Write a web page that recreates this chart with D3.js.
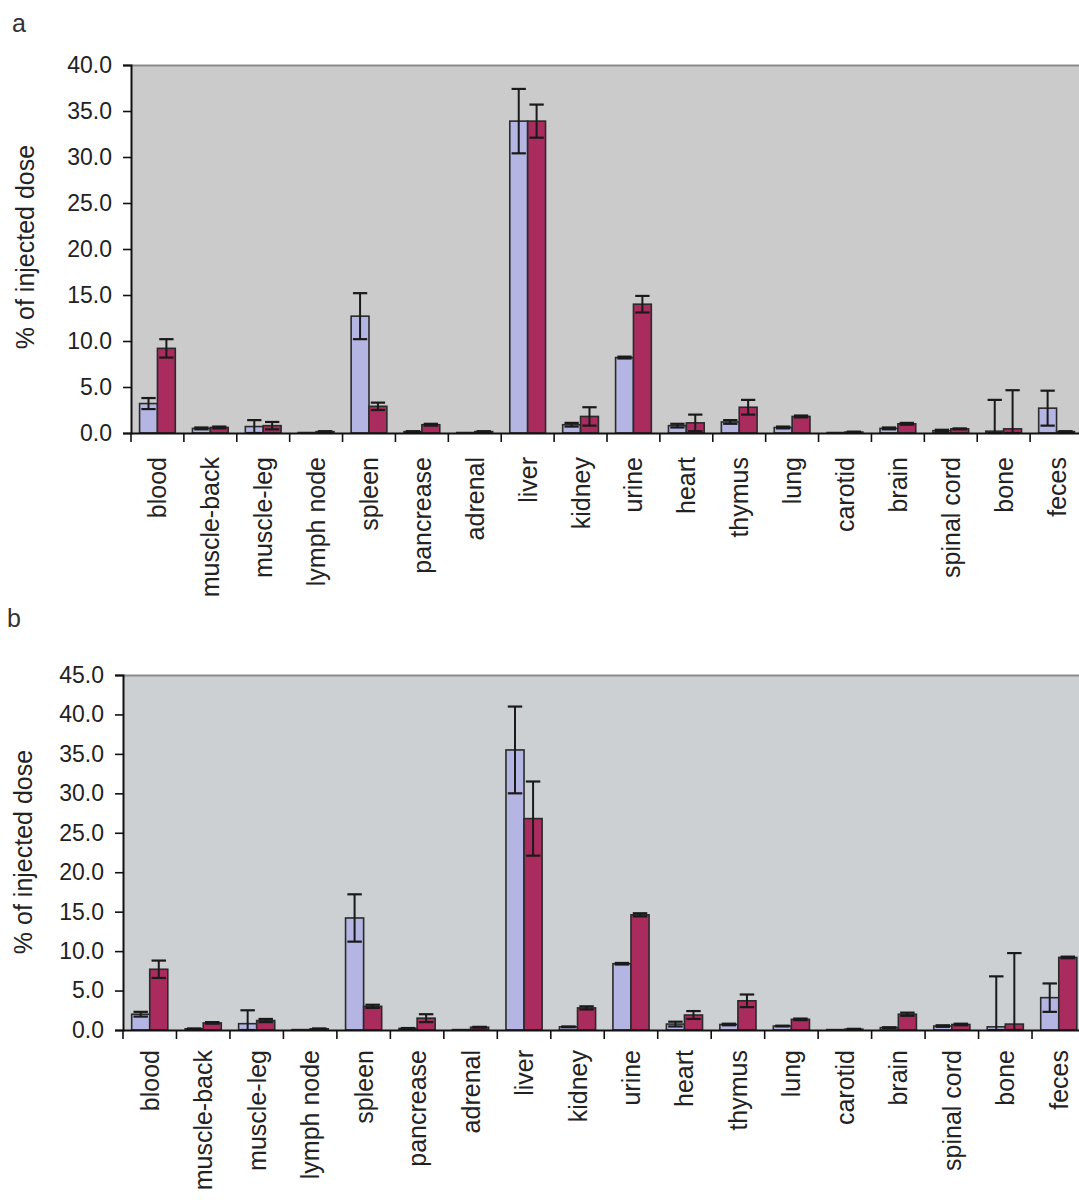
<!DOCTYPE html>
<html><head><meta charset="utf-8">
<script src="https://cdn.jsdelivr.net/npm/d3@7"></script>
<style>
html,body{margin:0;padding:0;background:#fff;}
svg{display:block;font-family:"Liberation Sans",Arial,sans-serif;}
</style></head>
<body>
<svg id="chart" width="1079" height="1202"></svg>
<script>
const categories = ["blood","muscle-back","muscle-leg","lymph node","spleen","pancrease","adrenal","liver","kidney","urine","heart","thymus","lung","carotid","brain","spinal cord","bone","feces"];

// panel a
const aBlue    = [3.2, 0.5, 0.7, 0.05, 12.7, 0.15, 0.05, 33.9, 0.9, 8.2, 0.8, 1.2, 0.6, 0.05, 0.5, 0.25, 0.2, 2.7];
const aBlueErr = [0.6, 0.1, 0.7, 0,    2.5,  0.05, 0,    3.5,  0.2, 0.1, 0.2, 0.2, 0.1, 0,    0.1, 0.1,  3.4, 1.9];
const aRed     = [9.2, 0.6, 0.8, 0.15, 2.9,  0.9,  0.15, 33.9, 1.8, 14.0, 1.1, 2.8, 1.8, 0.1, 1.0, 0.45, 0.45, 0.15];
const aRedErr  = [1.0, 0.1, 0.4, 0.05, 0.4,  0.1,  0.05, 1.8,  1.0, 0.9, 0.9, 0.8, 0.1, 0.05, 0.1, 0.05, 4.2, 0.05];
const aTicks   = [0, 5, 10, 15, 20, 25, 30, 35, 40];

// panel b
const bBlue    = [2.0, 0.15, 0.8, 0.05, 14.2, 0.2, 0.05, 35.5, 0.4, 8.4, 0.75, 0.7, 0.5, 0.05, 0.3, 0.5, 0.4, 4.1];
const bBlueErr = [0.3, 0.05, 1.7, 0,    3.0,  0.05, 0,   5.5,  0.05, 0.1, 0.3, 0.1, 0.05, 0,   0.05, 0.1, 6.4, 1.8];
const bRed     = [7.7, 0.9, 1.2, 0.15, 3.0, 1.5, 0.35, 26.8, 2.8, 14.6, 1.9, 3.7, 1.35, 0.1, 2.0, 0.7, 0.75, 9.2];
const bRedErr  = [1.1, 0.1, 0.2, 0.05, 0.2, 0.5, 0.05, 4.7, 0.2, 0.2, 0.5, 0.8, 0.1, 0.05, 0.2, 0.1, 9.0, 0.1];
const bTicks   = [0, 5, 10, 15, 20, 25, 30, 35, 40, 45];

const seriesNames = ["blue", "red"];
const yTitle = "% of injected dose";

const svg = d3.select("#chart");

function panel(cfg) {
  const g = svg.append("g");
  const x = d3.scaleBand().domain(categories).range([cfg.left, cfg.right]).paddingInner(0).paddingOuter(0);
  const xs = d3.scaleBand().domain(seriesNames).range([0, x.bandwidth()]).paddingInner(0).paddingOuter(0.48);
  const y = d3.scaleLinear().domain([0, cfg.max]).range([cfg.bottom, cfg.top]);

  // plot background
  g.append("rect").attr("x", cfg.left).attr("y", cfg.top)
    .attr("width", cfg.right - cfg.left).attr("height", cfg.bottom - cfg.top)
    .attr("fill", cfg.bg);
  g.append("line").attr("x1", cfg.left).attr("x2", cfg.right)
    .attr("y1", cfg.top + 0.5).attr("y2", cfg.top + 0.5)
    .attr("stroke", "#8a8a8a").attr("stroke-width", 2);

  const data = categories.map((c, i) => ({c, vals: [
    {s: "blue", v: cfg.blue[i], e: cfg.blueErr[i]},
    {s: "red", v: cfg.red[i], e: cfg.redErr[i]}
  ]}));
  const color = {blue: "#b5b5e4", red: "#aa2c5e"};

  const grp = g.selectAll(".grp").data(data).join("g")
    .attr("transform", d => `translate(${x(d.c)},0)`);
  const bw = xs.bandwidth();
  grp.selectAll("rect").data(d => d.vals).join("rect")
    .attr("x", d => xs(d.s)).attr("width", bw)
    .attr("y", d => y(d.v)).attr("height", d => y(0) - y(d.v))
    .attr("fill", d => color[d.s]).attr("stroke", "#2a2a2a").attr("stroke-width", 1.6);

  // error bars
  const eb = grp.selectAll(".eb").data(d => d.vals.filter(v => v.e > 0)).join("g");
  const capW = bw * 0.8;
  eb.append("line")
    .attr("x1", d => xs(d.s) + bw / 2).attr("x2", d => xs(d.s) + bw / 2)
    .attr("y1", d => y(d.v + d.e)).attr("y2", d => y(Math.max(0, d.v - d.e)))
    .attr("stroke", "#1a1a1a").attr("stroke-width", 2);
  eb.append("line")
    .attr("x1", d => xs(d.s) + bw / 2 - capW / 2).attr("x2", d => xs(d.s) + bw / 2 + capW / 2)
    .attr("y1", d => y(d.v + d.e)).attr("y2", d => y(d.v + d.e))
    .attr("stroke", "#1a1a1a").attr("stroke-width", 2.2);
  eb.append("line")
    .attr("x1", d => xs(d.s) + bw / 2 - capW / 2).attr("x2", d => xs(d.s) + bw / 2 + capW / 2)
    .attr("y1", d => y(Math.max(0, d.v - d.e))).attr("y2", d => y(Math.max(0, d.v - d.e)))
    .attr("stroke", "#1a1a1a").attr("stroke-width", 2.2);

  // y axis
  const ya = g.append("g").attr("transform", `translate(${cfg.left},0)`)
    .call(d3.axisLeft(y).tickValues(cfg.ticks).tickFormat(d3.format(".1f")).tickSize(8).tickPadding(11));
  ya.select(".domain").attr("stroke", "#111").attr("stroke-width", 2);
  ya.selectAll(".tick line").attr("stroke", "#111").attr("stroke-width", 1.6);
  ya.selectAll(".tick text").attr("font-size", 23).attr("fill", "#222")
    .attr("font-family", "'Liberation Sans', Arial, sans-serif");

  // x axis
  const xa = g.append("g").attr("transform", `translate(0,${cfg.bottom})`)
    .call(d3.axisBottom(x).tickSize(0).tickPadding(0));
  xa.select(".domain").attr("stroke", "#111").attr("stroke-width", 2);
  xa.selectAll(".tick text")
    .attr("transform", "rotate(-90)")
    .attr("x", -cfg.labelGap).attr("y", 0).attr("dy", "0.36em")
    .style("text-anchor", "end")
    .attr("font-size", 25).attr("fill", "#222")
    .attr("font-family", "'Liberation Sans', Arial, sans-serif");
  const bounds = categories.map(c => x(c)).concat([x.range()[1]]);
  xa.selectAll(".bt").data(bounds).join("line")
    .attr("x1", d => d).attr("x2", d => d).attr("y1", 0).attr("y2", 9)
    .attr("stroke", "#111").attr("stroke-width", 1.6);

  // y title
  g.append("text")
    .attr("transform", `translate(${cfg.titleX},${cfg.titleY}) rotate(-90)`)
    .attr("text-anchor", "middle").attr("font-size", 25).attr("fill", "#222")
    .text(yTitle);

  // panel letter
  g.append("text").attr("x", cfg.letterX).attr("y", cfg.letterY)
    .attr("font-size", 25).attr("fill", "#333").text(cfg.letter);
}

panel({left: 131, right: 1083, top: 65, bottom: 433, max: 40, ticks: aTicks,
  blue: aBlue, blueErr: aBlueErr, red: aRed, redErr: aRedErr, bg: "#cbcbcb",
  labelGap: 24, titleX: 34, titleY: 247, letter: "a", letterX: 12, letterY: 32});
panel({left: 123, right: 1085.5, top: 675, bottom: 1030, max: 45, ticks: bTicks,
  blue: bBlue, blueErr: bBlueErr, red: bRed, redErr: bRedErr, bg: "#ccd0d2",
  labelGap: 20, titleX: 32, titleY: 852, letter: "b", letterX: 7, letterY: 627});
</script>
</body></html>
